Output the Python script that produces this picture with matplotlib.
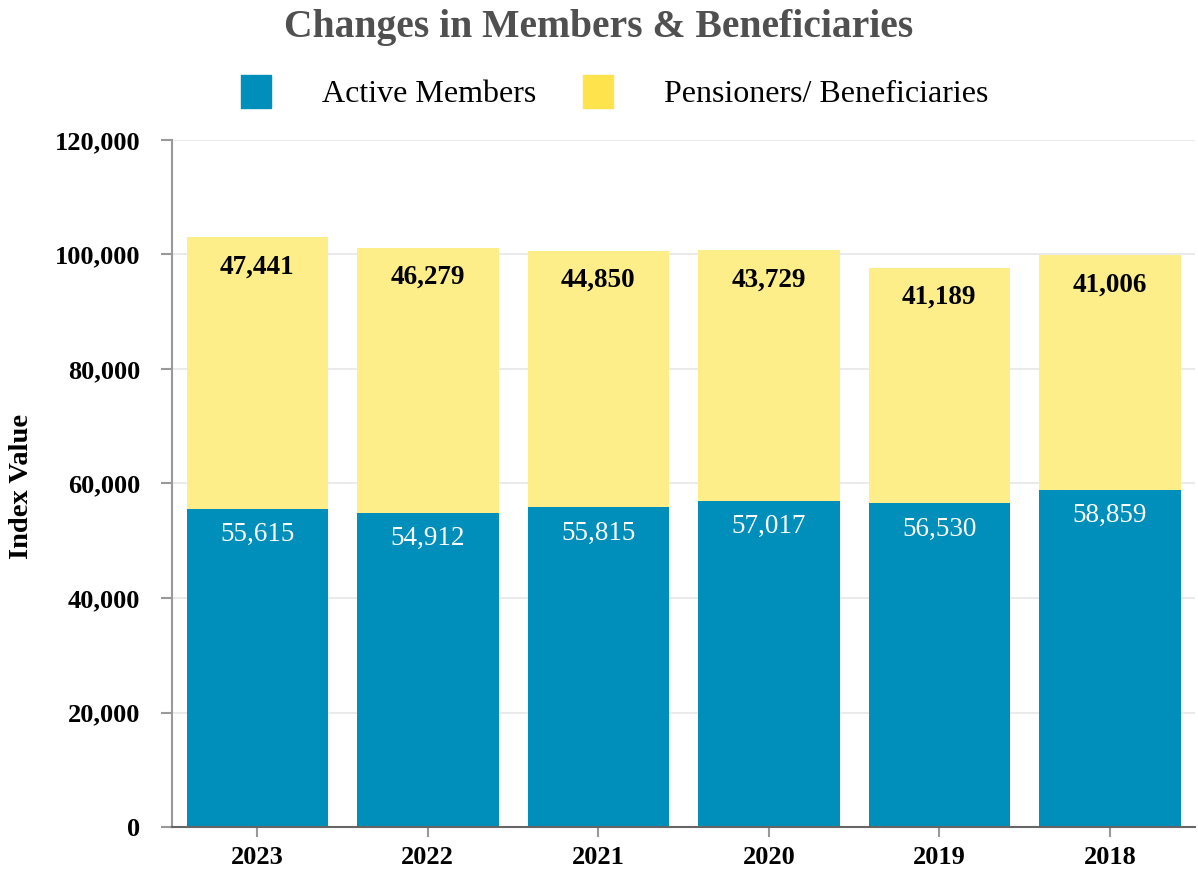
import matplotlib.pyplot as plt
from matplotlib.ticker import FuncFormatter
from matplotlib.patches import Patch

plt.rcParams["font.family"] = ["Liberation Serif", "DejaVu Serif"]

# Data
years = ["2023", "2022", "2021", "2020", "2019", "2018"]
active = [55615, 54912, 55815, 57017, 56530, 58859]
pensioners = [47441, 46279, 44850, 43729, 41189, 41006]

blue = "#008EBA"
yellow_bar = "#FDEE8A"
yellow_legend = "#FFE34D"

fig = plt.figure(figsize=(11.98, 8.71), dpi=100)
ax = fig.add_axes([0.1436, 0.0505, 0.854, 0.7888])

x = range(len(years))
ax.bar(x, active, width=0.83, color=blue, zorder=2)
ax.bar(x, pensioners, width=0.83, bottom=active, color=yellow_bar, zorder=2)

for i in x:
    top = active[i] + pensioners[i]
    ax.annotate(f"{pensioners[i]:,}", xy=(i, top), xytext=(0, -21.5),
                textcoords="offset points", ha="center", va="center",
                fontsize=19.5, fontweight="bold", color="black", zorder=3)
    ax.annotate(f"{active[i]:,}", xy=(i, active[i]), xytext=(0, -18.5),
                textcoords="offset points", ha="center", va="center",
                fontsize=19.5, color="white", zorder=3)

ax.set_xlim(-0.5, len(years) - 0.5)
ax.set_ylim(0, 120000)
ax.set_yticks(range(0, 120001, 20000))
ax.yaxis.set_major_formatter(FuncFormatter(lambda v, p: f"{int(v):,}"))
ax.set_xticks(list(x))
ax.set_xticklabels(years)

for lbl in ax.get_yticklabels() + ax.get_xticklabels():
    lbl.set_fontweight("bold")
    lbl.set_fontsize(19)

ax.grid(axis="y", color="#e6e6e6", linewidth=1.2, zorder=0)
ax.set_axisbelow(True)
for s in ["top", "right"]:
    ax.spines[s].set_visible(False)
ax.spines["left"].set_color("#999999")
ax.spines["left"].set_linewidth(1.5)
ax.spines["bottom"].set_color("#666666")
ax.spines["bottom"].set_linewidth(1.5)
ax.tick_params(axis="y", length=8, width=1.5, color="#999999", pad=15)
ax.tick_params(axis="x", length=7, width=1.5, color="#999999", pad=7)

fig.text(22 / 1198, 0.442, "Index Value", rotation=90, ha="center", va="center",
         fontsize=20.5, fontweight="bold", color="black")

fig.text(0.5, 0.968, "Changes in Members & Beneficiaries", ha="center",
         va="center", fontsize=28.5, fontweight="bold", color="#505050")

handles = [Patch(color=blue, label="Active Members"),
           Patch(color=yellow_legend, label="Pensioners/ Beneficiaries")]
fig.legend(handles=handles, loc="center", bbox_to_anchor=(0.513, 0.894),
           ncol=2, frameon=False, fontsize=23, handlelength=0.95,
           handleheight=1.2, handletextpad=1.6, columnspacing=1.45)

fig.savefig("out.png", dpi=100, facecolor="white")
